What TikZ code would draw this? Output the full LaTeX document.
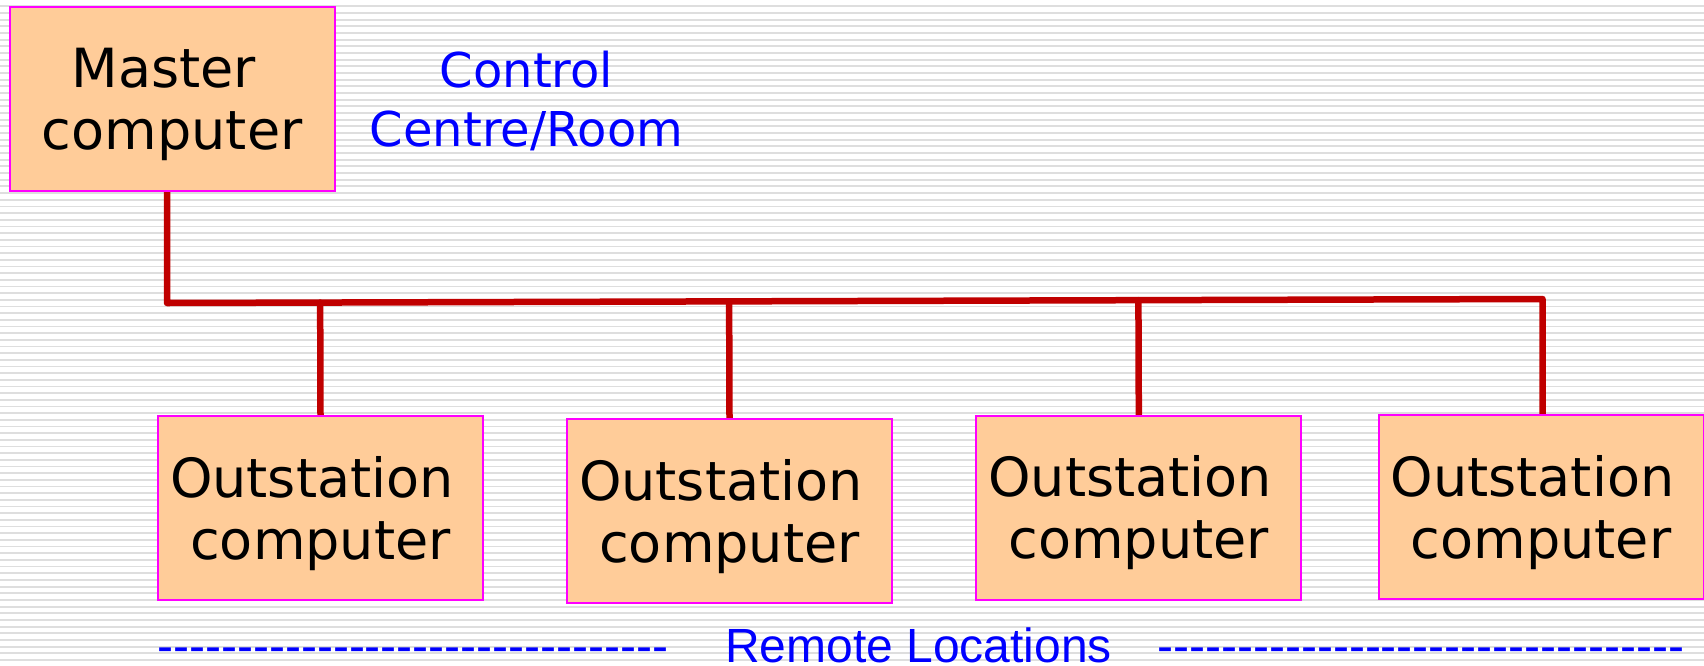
\documentclass[tikz,border=0pt]{standalone}
\usepackage{fontspec}
\setmainfont{DejaVu Sans}
\newfontfamily\remotefont{Liberation Sans}
\usetikzlibrary{calc}

\definecolor{boxfill}{RGB}{255,204,153}
\definecolor{boxline}{RGB}{255,0,255}
\definecolor{linkred}{RGB}{192,0,0}
\definecolor{labelblue}{RGB}{0,0,255}
\definecolor{stripegray}{RGB}{222,222,222}

\pgfdeclarelayer{ruled}
\pgfdeclarelayer{wiring}
\pgfsetlayers{ruled,wiring,main}

% a run of separate hyphens (kerns keep them from joining into dashes)
\newcommand\hyphenrun[1]{\foreach \n in {1,...,#1}{-\kern0pt}}

\begin{document}
\begin{tikzpicture}[x=1pt,y=-1pt,
  stationbox/.style={draw=boxline,fill=boxfill,line width=2pt,inner sep=0pt,
    minimum width=325pt,minimum height=184pt},
  boxtext/.style={inner sep=0pt,align=center,font=\fontsize{54}{62}\selectfont},
  titletext/.style={inner sep=0pt,align=center,text=labelblue,
    font=\fontsize{48}{59.3}\selectfont},
  remote/.style={inner sep=0pt,text=labelblue,font=\remotefont\fontsize{48}{56}\selectfont},
  link/.style={draw=linkred,line width=6.5pt,line join=round,line cap=round},
  stripe/.style={draw=stripegray,line width=1.8pt}]

\useasboundingbox (0,0) rectangle (1704,665);

% ruled background
\begin{pgfonlayer}{ruled}
\fill[white] (0,0) rectangle (1704,665);
\foreach \k in {0,...,98}
  \draw[stripe] (0,{6.3+6.67*\k}) -- (1704,{6.3+6.67*\k});
\end{pgfonlayer}

% computers
\node[stationbox] (m)  at (172.2,99.2) {};
\node[stationbox] (o1) at (320.5,508) {};
\node[stationbox] (o2) at (729.5,511) {};
\node[stationbox] (o3) at (1138.8,507.5) {};
\node[stationbox] (o4) at (1541,507) {};

% box captions
\node[boxtext] (mt) at ($(m)+(0,5.5)$) {Master\hspace*{0.318em}\\computer};
\foreach \b in {o1,o2,o3,o4}
  \node[boxtext] (\b t) at ($(\b)+(0,5.5)$) {Outstation\hspace*{0.318em}\\computer};

% bus wiring, under the boxes
\coordinate (busL) at (167,303);
\coordinate (busR) at (1542.5,299);
\begin{pgfonlayer}{wiring}
\path[link] (busL |- m.south) -- (busL) -- (busR) -- (busR |- o4.north);
\foreach \b in {o1,o2,o3}
  \path[link] (\b.north) -- ($(busL)!(\b.north)!(busR)$);
\end{pgfonlayer}

% site labels
\node[titletext] (ctrl) at (526.5,100.8) {Control\\Centre/Room};
\node[remote,anchor=base west] (dashL) at (157,662) {\hyphenrun{32}};
\node[remote,anchor=base west] (remoteloc) at (725,662) {Remote Locations};
\node[remote,anchor=base west] (dashR) at (1157,662) {\hyphenrun{33}};
\end{tikzpicture}
\end{document}
